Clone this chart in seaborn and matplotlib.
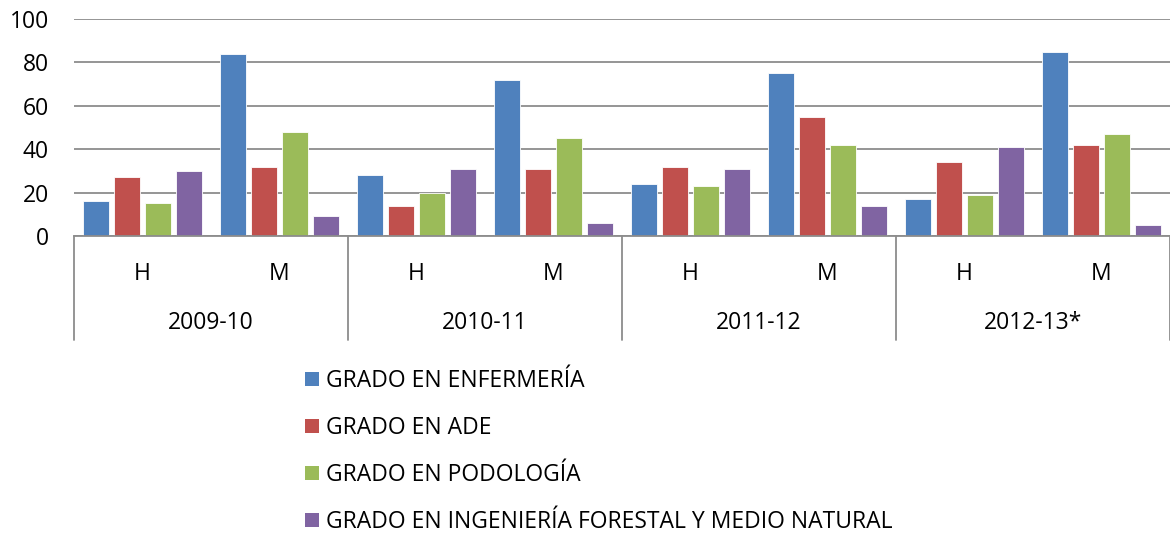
import matplotlib
matplotlib.use("Agg")
import matplotlib.pyplot as plt
import matplotlib.transforms as mtransforms
from matplotlib.patches import Patch
import seaborn as sns
import pandas as pd

years = ["2009-10", "2010-11", "2011-12", "2012-13*"]
sexes = ["H", "M"]
series = ["GRADO EN ENFERMERÍA", "GRADO EN ADE", "GRADO EN PODOLOGÍA",
          "GRADO EN INGENIERÍA FORESTAL Y MEDIO NATURAL"]
colors = ["#4F81BD", "#C0504D", "#9BBB59", "#8064A2"]

enfermeria = [16, 84, 28, 72, 24, 75, 17, 85]
ade = [27, 32, 14, 31, 32, 55, 34, 42]
podologia = [15, 48, 20, 45, 23, 42, 19, 47]
forestal = [30, 9, 31, 6, 31, 14, 41, 5]

values = [enfermeria, ade, podologia, forestal]
cats = [f"{y}|{s}" for y in years for s in sexes]
rows = []
for name, vals in zip(series, values):
    for c, v in zip(cats, vals):
        rows.append({"cat": c, "serie": name, "valor": v})
df = pd.DataFrame(rows)

sns.set_style("white")
plt.rcParams["font.family"] = ["Open Sans", "DejaVu Sans"]
plt.rcParams["text.color"] = "black"
plt.rcParams["xtick.color"] = "black"
plt.rcParams["ytick.color"] = "black"
plt.rcParams["xtick.labelcolor"] = "black"
plt.rcParams["ytick.labelcolor"] = "black"

FS = 16.5

fig = plt.figure(figsize=(11.7, 5.35), dpi=100)
ax = fig.add_axes([74/1170, 1-236/535, 1-74/1170, 217/535])

sns.barplot(data=df, x="cat", y="valor", hue="serie", order=cats, hue_order=series,
            palette=colors, width=0.9, gap=0.17, saturation=1, ax=ax,
            edgecolor="white", linewidth=0.6, legend=True)

ax.set_ylim(0, 100)
ax.set_xlim(-0.5, len(cats) - 0.5)
ax.set_yticks([0, 20, 40, 60, 80, 100])
ax.yaxis.grid(True, color="#8c8c8c", linewidth=1.3)
ax.set_axisbelow(True)
for s in ["top", "right", "left"]:
    ax.spines[s].set_visible(False)
ax.spines["bottom"].set_color("#8c8c8c")
ax.spines["bottom"].set_linewidth(1.3)
ax.set_xlabel("")
ax.set_ylabel("")
ax.set_xticks(range(len(cats)))
ax.set_xticklabels([c.split("|")[1] for c in cats])
ax.tick_params(axis="x", length=0, pad=19, labelsize=FS, labelcolor="black")
ax.tick_params(axis="y", length=0, pad=18, labelsize=FS, labelcolor="black")

trans = mtransforms.blended_transform_factory(ax.transData, ax.transAxes)
for i in range(len(years) + 1):
    xb = -0.5 + 2 * i
    ax.plot([xb, xb], [0, -104/217], transform=trans, color="#8c8c8c",
            linewidth=1.3, clip_on=False)
for i, y in enumerate(years):
    ax.text(0.5 + 2 * i, -87/217, y, transform=trans, ha="center", va="center",
            fontsize=FS, color="black")

ax.get_legend().remove()
handles = [Patch(facecolor=c, edgecolor="none") for c in colors]
fig.legend(handles, series, loc="upper left", bbox_to_anchor=(296/1170, 1-360/535),
           frameon=False, fontsize=FS, handlelength=0.6, handleheight=0.6,
           handletextpad=0.3, labelspacing=1.0, borderaxespad=0, labelcolor="black")

fig.savefig("out.png", dpi=100)
